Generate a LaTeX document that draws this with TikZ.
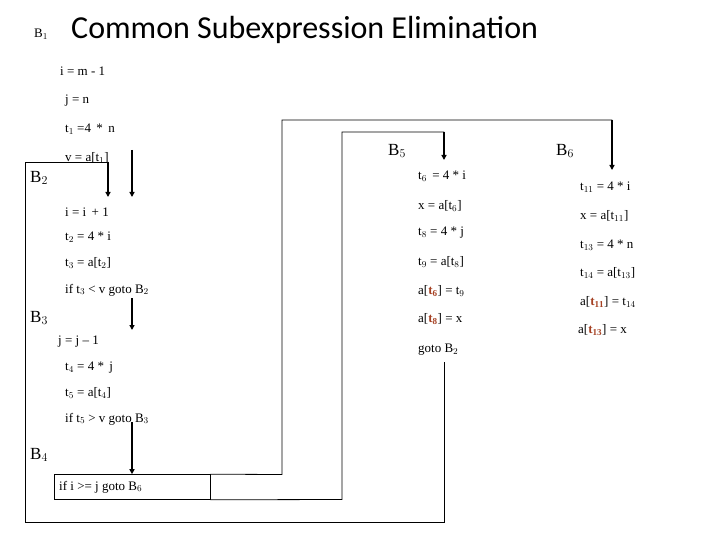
\documentclass[tikz,border=0pt]{standalone}
\usepackage{fontspec}
\setmainfont{Liberation Serif}
\newfontfamily\titlefont{Carlito}
\usetikzlibrary{arrows.meta}
\definecolor{hl}{RGB}{165,65,35}
\newcommand{\hlt}[1]{\textcolor{hl}{\textbf{t}$_{\mathbf{#1}}$}}
\begin{document}
\begin{tikzpicture}[x=1pt,y=-1pt,
  code/.style={anchor=west,inner sep=0pt,font=\fontsize{13}{15}\selectfont},
  blab/.style={anchor=west,inner sep=0pt,font=\fontsize{17}{19}\selectfont},
  ln/.style={draw,line width=0.8pt},
  arr/.style={draw,line width=1.6pt,-{Triangle[length=5pt,width=5pt]}}]
\useasboundingbox (0,0) rectangle (720,540);
\node[anchor=west,inner sep=0pt,font=\fontsize{13}{15}\selectfont] (b1) at (34,34) {B$_1$};
\node[anchor=west,inner sep=0pt,font=\titlefont\fontsize{32}{35}\selectfont] (title) at (71,30) {Common Subexpression Elimination};
% B1
\node[code] (l1) at (60,71) {i = m - 1};
\node[code] (l2) at (65,101) {j = n};
\node[code] (l3) at (65,129) {t$_1$ =4 \,*\, n};
\node[code] (l4) at (65,158) {v = a[t$_1$]};
% B2
\node[blab] (B2) at (30,178) {B$_2$};
\node[code] (m1) at (65,212) {i = i \,+ 1};
\node[code] (m2) at (65,237) {t$_2$ = 4 * i};
\node[code] (m3) at (65,263) {t$_3$ = a[t$_2$]};
\node[code] (m4) at (65,290) {if t$_3$ < v goto B$_2$};
% B3
\node[blab] (B3) at (30,318) {B$_3$};
\node[code] (n1) at (58,342) {j = j -- 1};
\node[code] (n2) at (65,368) {t$_4$ = 4 * \,j};
\node[code] (n3) at (65,393) {t$_5$ = a[t$_4$]};
\node[code] (n4) at (65,419) {if t$_5$ > v goto B$_3$};
% B4
\node[blab] (B4) at (30,455) {B$_4$};
\node[draw,line width=0.6pt,minimum width=156pt,minimum height=25pt,inner sep=0pt] (box) at (132,487) {};
\node[code] (bt) at (59,487) {if i >= j goto B$_6$};
% B5
\node[blab] (B5) at (388,151) {B$_5$};
\node[code] (p1) at (418,176) {t$_6$ \,= 4 * i};
\node[code] (p2) at (418,206) {x = a[t$_6$]};
\node[code] (p3) at (418,233) {t$_8$ = 4 * j};
\node[code] (p4) at (418,262) {t$_9$ = a[t$_8$]};
\node[code] (p5) at (418,291) {a[\hlt{6}] = t$_9$};
\node[code] (p6) at (418,319) {a[\hlt{8}] = x};
\node[code] (p7) at (418,350) {goto B$_2$};
% B6
\node[blab] (B6) at (556,151) {B$_6$};
\node[code] (q1) at (580,187) {t$_{11}$ = 4 * i};
\node[code] (q2) at (580,216) {x = a[t$_{11}$]};
\node[code] (q3) at (580,245) {t$_{13}$ = 4 * n};
\node[code] (q4) at (580,273) {t$_{14}$ = a[t$_{13}$]};
\node[code] (q5) at (580,302) {a[\hlt{11}] = t$_{14}$};
\node[code] (q6) at (578,330) {a[\hlt{13}] = x};
% connectors
\coordinate (e1s) at (132,150); \coordinate (e1e) at (132,197);
\draw[arr] (e1s) -- (e1e);
\coordinate (lpE) at (108,197);
\draw[ln] (444,362) -- (444,522) -- (25,522) -- (25,162) -- (108,162);
\draw[arr] (108,161.6) -- (lpE);
\draw[arr] (132,298) -- (132,330);
\draw[arr] (132,422) -- (box.north -| 132,0);
\draw[ln] (box.north east) -- (282,474.5) -- (282,120) -- (612,120);
\draw[arr] (612,119.6) -- (612,170);
\draw[ln] (box.south east) -- (342,499.5) -- (342,132) -- (444,132);
\draw[arr] (444,131.6) -- (444,160);
\end{tikzpicture}
\end{document}
